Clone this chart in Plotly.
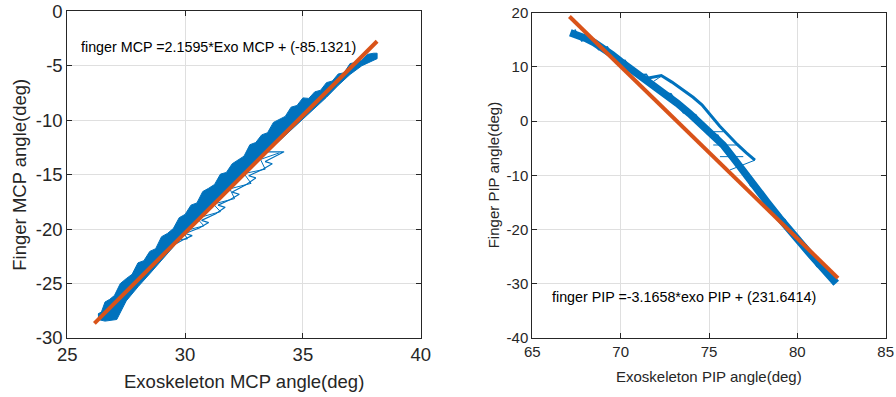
import plotly.graph_objects as go

BLUE = "#0072BD"
ORANGE = "#D95319"
TXT = "#262626"
GRID = "#dfdfdf"
FONT = "Liberation Sans, Arial, sans-serif"

# ---------------- Left panel (MCP) ----------------
mcp_upper_exo = [26.3, 26.45, 26.6, 26.8, 27.0, 27.25, 27.5, 27.75, 28.0, 28.25, 28.5, 28.75, 29.0,
                 29.25, 29.5, 29.75, 30.0, 30.25, 30.5, 30.75, 31.0, 31.25, 31.5, 31.75, 32.0, 32.25,
                 32.5, 32.75, 33.0, 33.25, 33.5, 33.75, 34.0, 34.25, 34.5, 34.75, 35.0, 35.25, 35.5,
                 35.75, 36.0, 36.25, 36.5, 36.75, 37.0, 37.25, 37.5, 37.75, 38.0, 38.15]
mcp_upper_finger = [-27.8, -27.6, -26.7, -26.45, -26.1, -25.0, -24.55, -24.15, -23.1, -22.9, -22.05,
                    -21.8, -20.7, -20.4, -19.95, -18.95, -18.65, -17.8, -17.6, -16.55, -16.25, -15.9,
                    -14.95, -14.8, -14.0, -13.65, -13.3, -12.25, -12.05, -11.35, -11.15, -10.2, -9.9,
                    -9.65, -8.8, -8.65, -7.95, -8.0, -7.4, -7.25, -6.55, -6.4, -5.75, -5.65, -4.8, -4.7,
                    -4.5, -3.95, -3.85, -3.85]
mcp_lower_exo = [38.15, 37.5, 37.0, 36.5, 36.0, 35.5, 35.0, 34.5, 34.0, 33.5, 33.0, 32.5, 32.0,
                 31.5, 31.0, 30.5, 30.0, 29.5, 29.0, 28.5, 28.0, 27.5, 27.1, 26.6, 26.3]
mcp_lower_finger = [-4.35, -5.0, -5.8, -6.8, -7.9, -8.9, -9.9, -10.9, -11.9, -12.9, -13.9, -14.9, -16.0,
                    -17.0, -18.1, -19.2, -20.4, -21.6, -22.8, -24.1, -25.3, -26.6, -28.3, -28.45, -28.3]
mcp_loop_exo = [29.4, 29.9, 30.3, 30.0, 30.6, 31.0, 30.7, 31.3, 31.7, 31.4, 31.9, 32.3, 32.0,
                32.6, 33.0, 32.7, 33.3, 33.7, 33.4, 34.2, 33.5, 33.0]
mcp_loop_finger = [-21.6, -21.0, -20.6, -20.4, -19.9, -19.4, -19.2, -18.6, -18.0, -17.8, -17.3, -16.8,
                   -16.6, -15.9, -15.3, -15.1, -14.5, -14.0, -13.8, -12.9, -12.9, -13.4]
mcp_loop2_exo = [29.6, 30.1, 29.9, 30.8, 30.5, 31.5, 31.2, 32.1, 31.9, 32.8, 32.5, 33.4, 33.2, 34.0]
mcp_loop2_finger = [-21.0, -20.9, -20.2, -19.7, -19.0, -18.4, -17.7, -17.2, -16.3, -15.8, -14.9, -14.5,
                    -13.6, -13.0]
mcp_fit_exo = [26.15, 38.15]
mcp_fit_finger = [-28.65, -2.75]
mcp_xticks = [25, 30, 35, 40]
mcp_yticks = [-30, -25, -20, -15, -10, -5, 0]
mcp_ytick_text = ["-30", "-25", "-20", "-15", "-10", "-5", "0"]

# ---------------- Right panel (PIP) ----------------
pip_band_exo = [67.15, 67.6, 68.0, 68.5, 69.0, 69.5, 70.0, 70.5, 71.1, 71.8, 72.5, 73.2, 73.9,
                74.6, 75.2, 75.8, 76.4, 77.0, 77.7, 78.3, 79.0, 79.6, 80.2, 80.8, 81.4, 81.9, 82.2]
pip_band_finger = [16.3, 15.9, 15.3, 14.5, 13.5, 12.3, 11.0, 9.8, 8.7, 7.0, 5.2, 3.3, 1.4,
                   -0.6, -2.4, -4.4, -6.9, -9.6, -12.6, -15.0, -17.9, -20.0, -22.5, -24.8, -27.2, -29.2, -29.9]
pip_noise_exo = [67.4, 67.8, 68.25, 68.75, 69.25, 69.75, 70.25, 70.8, 71.45, 72.15, 72.85, 73.55, 74.25,
                 74.9, 75.5, 76.1, 76.7, 77.35, 78.0, 78.65, 79.3, 79.9, 80.5, 81.1, 81.65, 82.05]
pip_noise_finger = [16.9, 14.8, 15.7, 13.2, 13.7, 10.85, 11.2, 8.45, 8.65, 5.3, 5.05, 1.55, 1.2,
                    -2.3, -2.6, -6.45, -7.45, -11.9, -13.0, -17.25, -18.15, -22.05, -22.85, -26.8, -27.4, -30.1]
pip_loop_exo = [71.5, 72.3, 72.9, 73.5, 74.1, 74.6, 75.1, 75.6, 76.1, 76.6, 77.1, 77.6]
pip_loop_finger = [7.9, 8.4, 7.2, 5.8, 4.4, 3.0, 1.0, -0.9, -2.6, -4.3, -5.8, -7.2]
pip_link_exo = [71.85, 72.3, None, 75.06, 75.81, None, 75.24, 76.57, None, 75.62, 76.94, None, 76.19, 77.6]
pip_link_finger = [7.3, 8.3, None, -1.95, -1.95, None, -4.4, -4.4, None, -6.55, -6.55, None, -9.0, -7.2]
pip_fit_exo = [67.1, 82.3]
pip_fit_finger = [19.3, -28.95]
pip_xticks = [65, 70, 75, 80, 85]
pip_yticks = [-40, -30, -20, -10, 0, 10, 20]
pip_ytick_text = ["-40", "-30", "-20", "-10", "0", "10", "20"]

fig = go.Figure()

# left
fig.add_trace(go.Scatter(x=mcp_upper_exo + mcp_lower_exo, y=mcp_upper_finger + mcp_lower_finger,
                         mode="lines", fill="toself", fillcolor=BLUE,
                         line=dict(color=BLUE, width=1), xaxis="x", yaxis="y", hoverinfo="skip"))
fig.add_trace(go.Scatter(x=mcp_loop_exo, y=mcp_loop_finger, mode="lines",
                         line=dict(color=BLUE, width=1.2), xaxis="x", yaxis="y"))
fig.add_trace(go.Scatter(x=mcp_loop2_exo, y=mcp_loop2_finger, mode="lines",
                         line=dict(color=BLUE, width=1), xaxis="x", yaxis="y"))
fig.add_trace(go.Scatter(x=mcp_fit_exo, y=mcp_fit_finger, mode="lines",
                         line=dict(color=ORANGE, width=4), xaxis="x", yaxis="y"))

# right
fig.add_trace(go.Scatter(x=pip_band_exo, y=pip_band_finger, mode="lines",
                         line=dict(color=BLUE, width=7.5), xaxis="x2", yaxis="y2"))
fig.add_trace(go.Scatter(x=pip_noise_exo, y=pip_noise_finger, mode="lines",
                         line=dict(color=BLUE, width=1.5), xaxis="x2", yaxis="y2"))
fig.add_trace(go.Scatter(x=pip_loop_exo, y=pip_loop_finger, mode="lines",
                         line=dict(color=BLUE, width=3), xaxis="x2", yaxis="y2"))
fig.add_trace(go.Scatter(x=pip_link_exo, y=pip_link_finger, mode="lines",
                         line=dict(color=BLUE, width=1), xaxis="x2", yaxis="y2"))
fig.add_trace(go.Scatter(x=pip_fit_exo, y=pip_fit_finger, mode="lines",
                         line=dict(color=ORANGE, width=4), xaxis="x2", yaxis="y2"))

W, H = 896, 397


def axis_common(size):
    return dict(showgrid=True, gridcolor=GRID, gridwidth=1, zeroline=False,
                showline=True, linecolor=TXT, linewidth=1, mirror="ticks",
                ticks="inside", ticklen=5, tickcolor=TXT, automargin=False,
                tickfont=dict(family=FONT, size=size, color=TXT))


fig.update_layout(
    width=W, height=H, margin=dict(l=0, r=0, t=0, b=0, autoexpand=False),
    paper_bgcolor="white", plot_bgcolor="white", showlegend=False,
    xaxis=dict(domain=[67.3 / W, 420.7 / W], range=[25, 40], tickvals=mcp_xticks, anchor="y",
               **axis_common(18.5)),
    yaxis=dict(domain=[(H - 338) / H, (H - 11.3) / H], range=[-30, 0], tickvals=mcp_yticks,
               ticktext=mcp_ytick_text, anchor="x", **axis_common(18.5)),
    xaxis2=dict(domain=[532.3 / W, 885.7 / W], range=[65, 85], tickvals=pip_xticks, anchor="y2",
                **axis_common(15)),
    yaxis2=dict(domain=[(H - 338) / H, (H - 12.7) / H], range=[-40, 20], tickvals=pip_yticks,
                ticktext=pip_ytick_text, anchor="x2", **axis_common(15)),
    annotations=[
        dict(text="finger MCP =2.1595*Exo MCP + (-85.1321)", x=25.5, y=-3.25, xref="x", yref="y",
             xanchor="left", yanchor="middle", showarrow=False, font=dict(family=FONT, size=14.3, color="black")),
        dict(text="finger PIP =-3.1658*exo PIP + (231.6414)", x=66.0, y=-32.4, xref="x2", yref="y2",
             xanchor="left", yanchor="middle", showarrow=False, font=dict(family=FONT, size=14.3, color="black")),
        dict(text="Exoskeleton MCP angle(deg)", x=244 / W, y=(H - 381.7) / H, xref="paper", yref="paper",
             xanchor="center", yanchor="middle", showarrow=False, font=dict(family=FONT, size=18.5, color=TXT)),
        dict(text="Finger MCP angle(deg)", x=20 / W, y=(H - 174.7) / H, xref="paper", yref="paper",
             xanchor="center", yanchor="middle", textangle=-90, showarrow=False,
             font=dict(family=FONT, size=18.5, color=TXT)),
        dict(text="Exoskeleton PIP angle(deg)", x=709 / W, y=(H - 376) / H, xref="paper", yref="paper",
             xanchor="center", yanchor="middle", showarrow=False, font=dict(family=FONT, size=15, color=TXT)),
        dict(text="Finger PIP angle(deg)", x=493 / W, y=(H - 175.3) / H, xref="paper", yref="paper",
             xanchor="center", yanchor="middle", textangle=-90, showarrow=False,
             font=dict(family=FONT, size=15, color=TXT)),
    ],
)

fig.write_html("out.html")
